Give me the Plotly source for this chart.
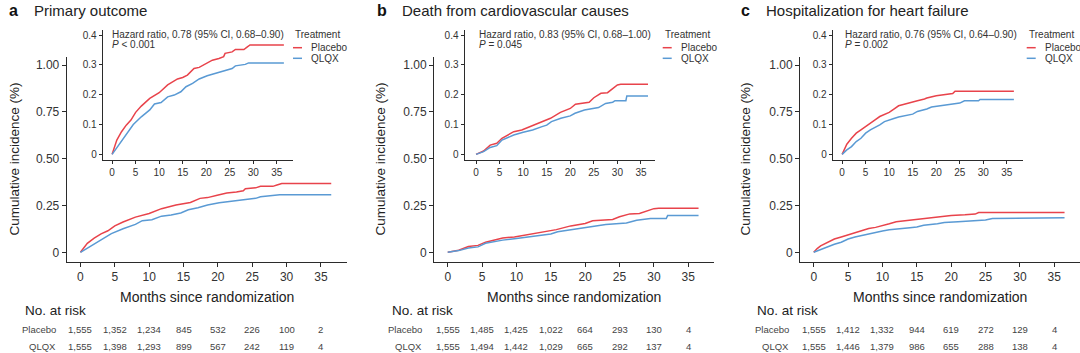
import plotly.graph_objects as go

# ---------------- data ----------------
panel_letters = ["a", "b", "c"]
panel_titles = ["Primary outcome", "Death from cardiovascular causes", "Hospitalization for heart failure"]
hr_texts = ["Hazard ratio, 0.78 (95% CI, 0.68–0.90)",
            "Hazard ratio, 0.83 (95% CI, 0.68–1.00)",
            "Hazard ratio, 0.76 (95% CI, 0.64–0.90)"]
p_texts = ["<i>P</i> < 0.001", "<i>P</i> = 0.045", "<i>P</i> = 0.002"]
series_names = ["Placebo", "QLQX"]

# Panel a - primary outcome
a_placebo_months = [0, 1, 2, 3, 4, 5, 6.2, 8, 10, 11.8, 13.9, 15, 16, 17.4, 18.5, 19.9, 21.3, 22.7, 23.7, 24,
                    25.5, 26.2, 28, 28.6, 29.3, 36.5]
a_placebo_cum = [0, 0.048, 0.076, 0.098, 0.115, 0.141, 0.162, 0.188, 0.207, 0.233, 0.253, 0.258, 0.266, 0.288,
                 0.292, 0.305, 0.316, 0.322, 0.328, 0.339, 0.344, 0.352, 0.352, 0.359, 0.367, 0.367]
a_qlqx_months = [0, 1, 2, 3, 4.5, 6.2, 8, 9, 10.4, 11.8, 13.2, 14.6, 15.7, 17.1, 18.5, 20.2, 22, 23.7, 25.1,
                 25.5, 26.2, 28.3, 29, 36.5]
a_qlqx_cum = [0, 0.022, 0.048, 0.07, 0.1, 0.126, 0.149, 0.169, 0.174, 0.193, 0.199, 0.21, 0.227, 0.238, 0.253,
              0.264, 0.272, 0.28, 0.285, 0.288, 0.297, 0.302, 0.307, 0.307]

# Panel b - death from cardiovascular causes
b_placebo_months = [0, 1.6, 3, 4.4, 5.5, 8, 9.7, 12.2, 14.4, 15.8, 17.9, 20, 21.1, 22.5, 24, 25, 26.5, 27.9,
                    29, 30, 30.7, 36.5]
b_placebo_cum = [0, 0.011, 0.031, 0.037, 0.054, 0.076, 0.082, 0.098, 0.11, 0.121, 0.141, 0.154, 0.168, 0.171,
                 0.175, 0.19, 0.205, 0.207, 0.221, 0.233, 0.235, 0.235]
b_qlqx_months = [0, 1.6, 3, 4.4, 5.5, 8, 10, 12, 14, 15, 16, 18, 20, 21, 23, 25, 26, 27.5, 29, 29.5, 31.8,
                 32, 36.5]
b_qlqx_cum = [0, 0.009, 0.023, 0.029, 0.048, 0.065, 0.074, 0.082, 0.093, 0.098, 0.11, 0.121, 0.129, 0.138,
              0.149, 0.154, 0.157, 0.171, 0.175, 0.18, 0.18, 0.196, 0.196]

# Panel c - hospitalization for heart failure
c_placebo_months = [0, 0.5, 1, 2, 3, 4, 5, 6, 7, 8, 9, 10, 11, 12, 13, 14, 15, 16, 17.5, 18, 20, 22, 23.5, 24,
                    36.5]
c_placebo_cum = [0, 0.02, 0.034, 0.054, 0.071, 0.082, 0.094, 0.107, 0.116, 0.127, 0.133, 0.141, 0.152, 0.163,
                 0.167, 0.172, 0.175, 0.18, 0.186, 0.189, 0.197, 0.2, 0.204, 0.212, 0.212]
c_qlqx_months = [0, 1, 2, 3, 4, 5, 6, 7, 8, 9, 10, 11, 12, 14, 15, 16, 18, 19, 21, 23, 25, 26, 29, 29.3, 36.5]
c_qlqx_cum = [0, 0.015, 0.026, 0.043, 0.054, 0.071, 0.082, 0.09, 0.099, 0.11, 0.114, 0.12, 0.125, 0.131, 0.135,
              0.144, 0.152, 0.159, 0.163, 0.169, 0.172, 0.18, 0.18, 0.184, 0.184]

# Numbers at risk
risk_months = [0, 5, 10, 15, 20, 25, 30, 35]
a_risk_placebo = ["1,555", "1,352", "1,234", "845", "532", "226", "100", "2"]
a_risk_qlqx = ["1,555", "1,398", "1,293", "899", "567", "242", "119", "4"]
b_risk_placebo = ["1,555", "1,485", "1,425", "1,022", "664", "293", "130", "4"]
b_risk_qlqx = ["1,555", "1,494", "1,442", "1,029", "665", "292", "137", "4"]
c_risk_placebo = ["1,555", "1,412", "1,332", "944", "619", "272", "129", "4"]
c_risk_qlqx = ["1,555", "1,446", "1,379", "986", "655", "288", "138", "4"]

main_y_ticks = [0, 0.25, 0.5, 0.75, 1.0]
main_y_ticklabels = ["0", "0.25", "0.50", "0.75", "1.00"]
inset_y_ticks = [0, 0.1, 0.2, 0.3, 0.4]
inset_y_ticklabels = ["0", "0.1", "0.2", "0.3", "0.4"]
x_ticks = [0, 5, 10, 15, 20, 25, 30, 35]

# ---------------- styling / layout ----------------
W, H = 1080, 353
RED = "#E8434B"
BLUE = "#5A9AD4"
AXIS = "#2b2b2b"
TXT = "#333333"
FONT = "Liberation Sans, Arial, sans-serif"


def PX(x):
    return x / W


def PY(y):
    return 1 - y / H


series = [
    (a_placebo_months, a_placebo_cum, a_qlqx_months, a_qlqx_cum, a_risk_placebo, a_risk_qlqx),
    (b_placebo_months, b_placebo_cum, b_qlqx_months, b_qlqx_cum, b_risk_placebo, b_risk_qlqx),
    (c_placebo_months, c_placebo_cum, c_qlqx_months, c_qlqx_cum, c_risk_placebo, c_risk_qlqx),
]

# pixel geometry per panel
main_left = [66.7, 434.0, 800.0]
main_w = 280.0
main_xrange = [-2.0, 38.75]
main_top, main_bottom = 57.0, 262.0
main_yrange = [-0.0518, 1.0427]
inset_left = [102.7, 464.5, 832.7]
inset_w = 190.6
inset_xrange = [[-2.0, 38.5], [-2.45, 38.0], [-2.0, 38.5]]
inset_top, inset_bottom = 30.0, 160.0
inset_yrange = [-0.019, 0.4174]
legend_x = [293.0, 662.7, 1026.7]
hr_x = [110.0, 477.3, 842.7]
title_letter_x = [7.0, 375.0, 739.0]
title_text_x = [32.0, 400.0, 764.0]
ylabel_x = [14.0, 380.0, 745.0]
rowlabel_right = [58.0, 424.3, 791.0]
noatrisk_x = [23.3, 390.0, 755.0]

fig = go.Figure()
annotations = []
shapes = []
layout_axes = {}

for i in range(3):
    pm, pc, qm, qc, rp, rq = series[i]
    mx = 2 * i + 1
    ix = 2 * i + 2
    mxname = "x" if mx == 1 else f"x{mx}"
    myname = "y" if mx == 1 else f"y{mx}"
    ixname = f"x{ix}"
    iyname = f"y{ix}"

    for xa, ya in [(mxname, myname), (ixname, iyname)]:
        fig.add_trace(go.Scatter(x=pm, y=pc, mode="lines", name="Placebo", showlegend=False,
                                 line=dict(color=RED, width=1.5), xaxis=xa, yaxis=ya))
        fig.add_trace(go.Scatter(x=qm, y=qc, mode="lines", name="QLQX", showlegend=False,
                                 line=dict(color=BLUE, width=1.5), xaxis=xa, yaxis=ya))

    common = dict(showgrid=False, zeroline=False, showline=True, linecolor=AXIS, linewidth=1,
                  ticks="outside", ticklen=4, tickwidth=1, tickcolor=AXIS)
    # main axes
    layout_axes["xaxis" if mx == 1 else f"xaxis{mx}"] = dict(
        domain=[PX(main_left[i]), min(1.0, PX(main_left[i] + main_w))], range=main_xrange,
        anchor=myname, tickvals=x_ticks, tickfont=dict(size=12, color=TXT), **common)
    layout_axes["yaxis" if mx == 1 else f"yaxis{mx}"] = dict(
        domain=[PY(main_bottom), PY(main_top)], range=main_yrange, anchor=mxname,
        tickvals=main_y_ticks, ticktext=main_y_ticklabels, tickfont=dict(size=12, color=TXT), **common)
    # inset axes
    c2 = dict(common)
    c2["ticklen"] = 3
    layout_axes[f"xaxis{ix}"] = dict(
        domain=[PX(inset_left[i]), PX(inset_left[i] + inset_w)], range=inset_xrange[i],
        anchor=iyname, tickvals=x_ticks, tickfont=dict(size=10, color=TXT), **c2)
    layout_axes[f"yaxis{ix}"] = dict(
        domain=[PY(inset_bottom), PY(inset_top)], range=inset_yrange, anchor=ixname,
        tickvals=inset_y_ticks, ticktext=inset_y_ticklabels, tickfont=dict(size=10, color=TXT), **c2)

    # panel title
    annotations.append(dict(x=PX(title_letter_x[i]), y=PY(10), xref="paper", yref="paper",
                            text=f"<b>{panel_letters[i]}</b>", showarrow=False, xanchor="left",
                            yanchor="middle", font=dict(size=16, color="#111", family=FONT)))
    annotations.append(dict(x=PX(title_text_x[i]), y=PY(10), xref="paper", yref="paper",
                            text=panel_titles[i], showarrow=False, xanchor="left", yanchor="middle",
                            font=dict(size=15, color="#222", family=FONT)))
    # y title
    annotations.append(dict(x=PX(ylabel_x[i]), y=PY((main_top + main_bottom) / 2), xref="paper",
                            yref="paper", text="Cumulative incidence (%)", textangle=-90, showarrow=False,
                            xanchor="center", yanchor="middle", font=dict(size=13.5, color="#222")))
    # x title
    annotations.append(dict(x=PX(main_left[i] + main_w / 2), y=PY(297), xref="paper", yref="paper",
                            text="Months since randomization", showarrow=False, xanchor="center",
                            yanchor="middle", font=dict(size=14, color="#222")))
    # HR annotation
    annotations.append(dict(x=PX(hr_x[i]), y=PY(34.5), xref="paper", yref="paper", text=hr_texts[i],
                            showarrow=False, xanchor="left", yanchor="middle",
                            font=dict(size=10, color=TXT)))
    annotations.append(dict(x=PX(hr_x[i]), y=PY(44.5), xref="paper", yref="paper", text=p_texts[i],
                            showarrow=False, xanchor="left", yanchor="middle",
                            font=dict(size=10, color=TXT)))
    # legend (manual)
    annotations.append(dict(x=PX(legend_x[i]), y=PY(34.5), xref="paper", yref="paper", text="Treatment",
                            showarrow=False, xanchor="left", yanchor="middle",
                            font=dict(size=10, color=TXT)))
    for name, col, yy in [(series_names[0], RED, 47.7), (series_names[1], BLUE, 58.3)]:
        shapes.append(dict(type="line", xref="paper", yref="paper", x0=PX(legend_x[i]),
                           x1=PX(legend_x[i] + 9), y0=PY(yy), y1=PY(yy), line=dict(color=col, width=1.5)))
        annotations.append(dict(x=PX(legend_x[i] + 16), y=PY(yy), xref="paper", yref="paper", text=name,
                                showarrow=False, xanchor="left", yanchor="middle",
                                font=dict(size=10, color=TXT)))
    # risk table
    annotations.append(dict(x=PX(noatrisk_x[i]), y=PY(310), xref="paper", yref="paper", text="No. at risk",
                            showarrow=False, xanchor="left", yanchor="middle",
                            font=dict(size=13.5, color="#222")))
    for label, vals, yy in [("Placebo", rp, 329.3), ("QLQX", rq, 346.7)]:
        annotations.append(dict(x=PX(rowlabel_right[i]), y=PY(yy), xref="paper", yref="paper", text=label,
                                showarrow=False, xanchor="right", yanchor="middle",
                                font=dict(size=9.5, color="#444")))
        for m, v in zip(risk_months, vals):
            annotations.append(dict(x=m, y=PY(yy), xref=mxname, yref="paper", text=v, showarrow=False,
                                    xanchor="center", yanchor="middle", font=dict(size=9.5, color="#444")))

fig.update_layout(
    width=W, height=H, margin=dict(l=0, r=0, t=0, b=0),
    paper_bgcolor="white", plot_bgcolor="rgba(0,0,0,0)",
    font=dict(family=FONT, color=TXT),
    showlegend=False,
    annotations=annotations, shapes=shapes,
    **layout_axes,
)

fig.write_html("out.html")
